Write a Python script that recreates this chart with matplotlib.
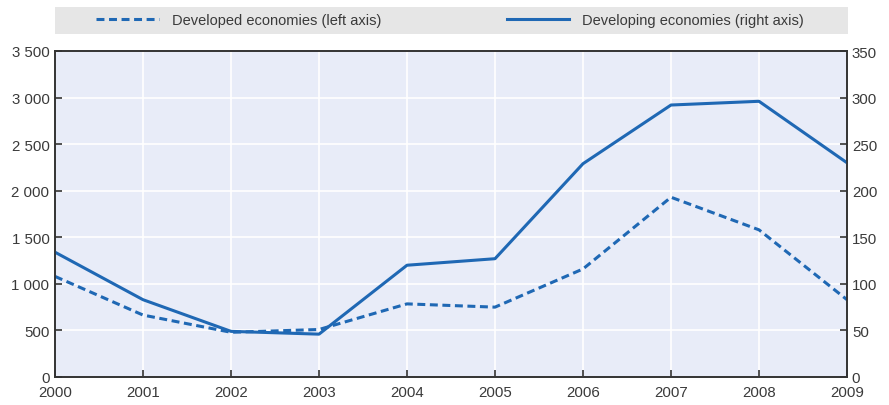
import matplotlib.pyplot as plt
from matplotlib.ticker import FuncFormatter, MultipleLocator
from matplotlib.patches import Rectangle

years = [2000, 2001, 2002, 2003, 2004, 2005, 2006, 2007, 2008, 2009]
developed = [1080, 665, 480, 510, 785, 750, 1160, 1930, 1580, 830]
developing = [134, 83, 49, 46, 120, 127, 229, 292, 296, 230]

line_col = '#1f68b4'
text_col = '#3a3a3a'
plt.rcParams['font.family'] = ['Liberation Sans Narrow', 'Liberation Sans', 'DejaVu Sans']

fig = plt.figure(figsize=(8.89, 4.06), dpi=100)
ax = fig.add_axes([55/889, 28/406, 792/889, 326/406])
ax2 = ax.twinx()

ax.set_facecolor('#e8ecf8')
ax.grid(True, color='white', linewidth=1.2)
ax.set_axisbelow(True)

# dashed = left axis, solid = right axis
l1, = ax.plot(years, developed, color=line_col, linestyle=(0, (2.6, 1.5)), linewidth=2.2,
              label='Developed economies (left axis)')
l2, = ax2.plot(years, developing, color=line_col, linewidth=2.2,
               label='Developing economies (right axis)')

ax.set_xlim(2000, 2009)
ax.set_ylim(0, 3500)
ax2.set_ylim(0, 350)
ax.set_xticks(years)
ax.yaxis.set_major_locator(MultipleLocator(500))
ax2.yaxis.set_major_locator(MultipleLocator(50))
ax.yaxis.set_major_formatter(FuncFormatter(lambda v, p: f'{int(v):,}'.replace(',', ' ')))

for a in (ax, ax2):
    for s in a.spines.values():
        s.set_color('#333333')
        s.set_linewidth(1.2)
    a.tick_params(direction='in', length=5, width=1.2, colors='#333333',
                  labelcolor=text_col, labelsize=10.8)
ax.tick_params(axis='x', pad=6)
ax.tick_params(axis='y', pad=4)

fig.patches.append(Rectangle((55/889, 1 - 35/406), 793/889, 27/406, transform=fig.transFigure,
                             facecolor='#e6e6e6', edgecolor='none', zorder=0))
leg = fig.legend(handles=[l1, l2], loc='center', ncol=2, frameon=False,
                 bbox_to_anchor=(450/889, 1 - 21.5/406), handlelength=4.3, handletextpad=0.9,
                 columnspacing=8.6, fontsize=10.5, labelcolor=text_col)

fig.savefig('out.png', dpi=100)
